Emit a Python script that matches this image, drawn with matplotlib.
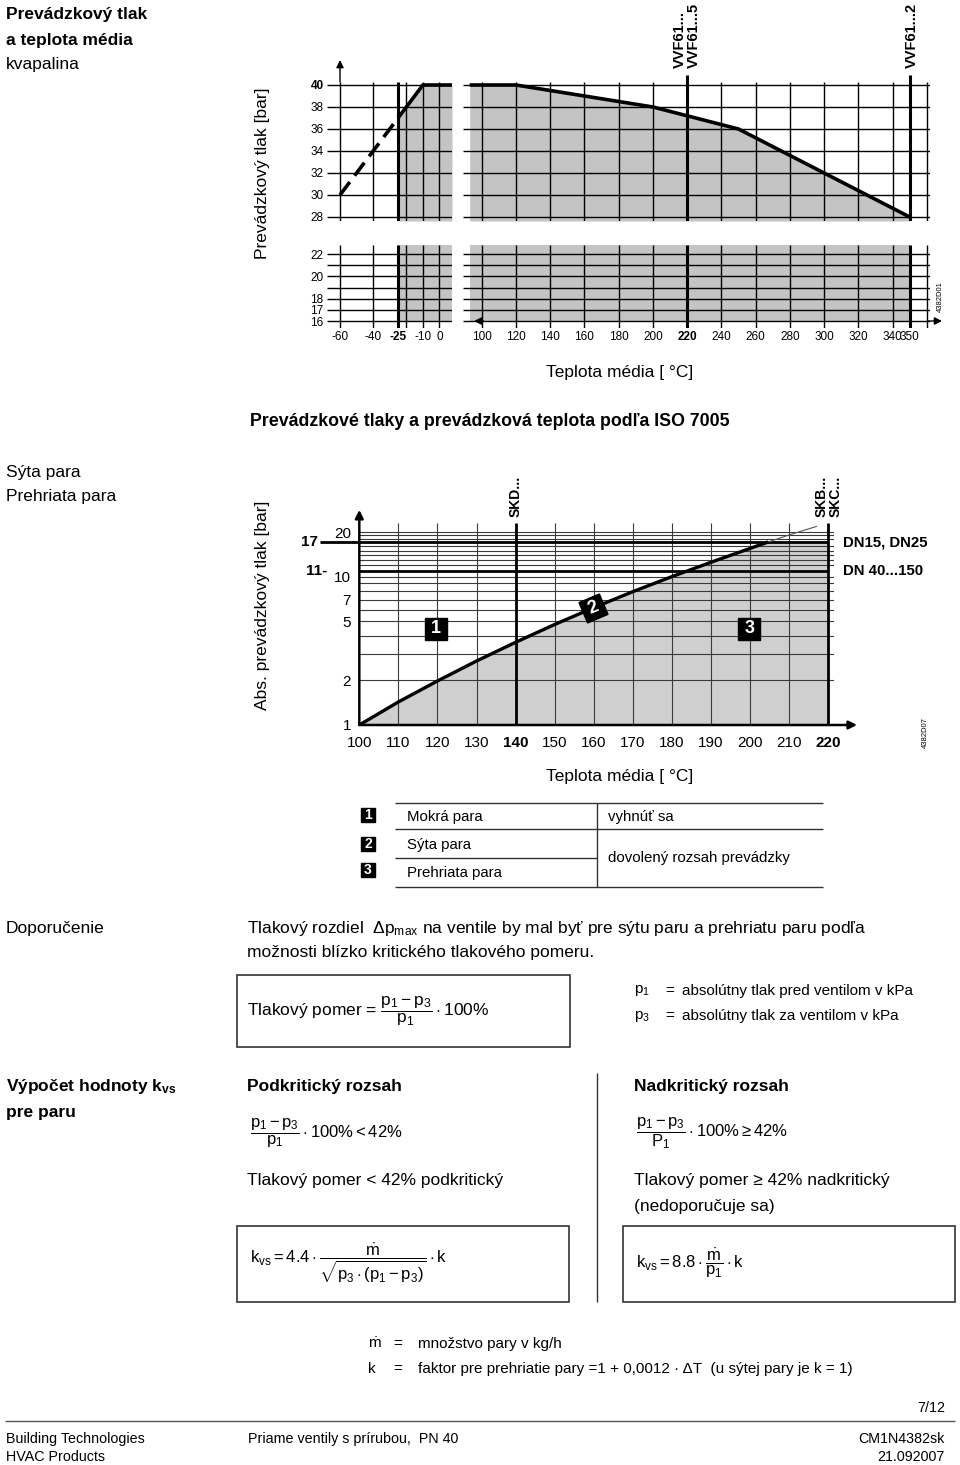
import numpy as np
import matplotlib
matplotlib.use("Agg")
import matplotlib.pyplot as plt
from matplotlib.patches import Rectangle
from matplotlib.ticker import NullLocator

plt.rcParams['font.family'] = ['Liberation Sans', 'DejaVu Sans']
plt.rcParams['mathtext.fontset'] = 'custom'
plt.rcParams['mathtext.rm'] = 'Liberation Sans'
plt.rcParams['mathtext.it'] = 'Liberation Sans:italic'
plt.rcParams['mathtext.bf'] = 'Liberation Sans:bold'

# --- chart 1: liquid, operating pressure [bar] vs. medium temperature [C]
liq_temp = [-60, -25, -10, 120, 200, 250, 350]
liq_pres = [30, 37, 40, 40, 38, 36, 28]
liq_min_temp = -25
liq_xticks_l = [-60, -40, -25, -10, 0]
liq_xticks_r = [100, 120, 140, 160, 180, 200, 220, 240, 260, 280, 300, 320, 340, 350]
liq_yticks_top = [28, 30, 32, 34, 36, 38, 40]
liq_yticks_bot = [16, 17, 18, 20, 22]
liq_hgrid_top = [28, 30, 32, 34, 36, 38, 40]
liq_hgrid_bot = [16, 17, 18, 19, 20, 21, 22]
liq_vgrid_l = [-60, -40, -20, -10, 0]
liq_vgrid_r = [100, 120, 140, 160, 180, 200, 240, 260, 280, 300, 320, 340, 360]
valve_temp = [220, 350]
valve_names = [["VVF61...", "VVF61...5"], ["VVF61...2"]]

# --- chart 2: steam, abs. pressure [bar] vs. temperature [C]
sat_temp = [100, 110, 120, 130, 140, 150, 160, 170, 180, 190, 200, 204.3]
sat_pres = [1.0, 1.43, 1.98, 2.70, 3.61, 4.76, 6.18, 7.92, 10.0, 12.5, 15.5, 17.0]
ext_temp = [204.3, 210, 217]
ext_pres = [17.0, 19.1, 21.8]
st_xticks = [100, 110, 120, 130, 140, 150, 160, 170, 180, 190, 200, 210, 220]
st_yticks = [1, 2, 5, 7, 10, 20]
st_hgrid = [2, 3, 4, 5, 6, 7, 8, 9, 10, 12, 13, 14, 15, 16, 18, 19, 20]
st_vgrid = [110, 120, 130, 150, 160, 170, 180, 190, 200, 210]
st_valve_temp = [140, 220]
st_dn_pres = [17, 11]
st_dn_names = ["DN15, DN25", "DN 40...150"]
region_nums = ["1", "2", "3"]
region_x = [119.6, 159.8, 199.8]
region_y = [4.44, 6.15, 4.44]
region_ang = [0, 23, 0]

W, H = 960, 1465
fig = plt.figure(figsize=(W / 100, H / 100), dpi=100)
page = fig.add_axes([0, 0, 1, 1])
page.set_xlim(0, W)
page.set_ylim(H, 0)
page.axis('off')


def px_axes(x0, y0, x1, y1):
    ax = fig.add_axes([x0 / W, 1 - y1 / H, (x1 - x0) / W, (y1 - y0) / H])
    for sp in ax.spines.values():
        sp.set_visible(False)
    ax.patch.set_visible(False)
    ax.set_xticks([])
    ax.set_yticks([])
    ax.tick_params(length=0)
    return ax


def txt(x, y, s, size=12.5, **kw):
    kw.setdefault('va', 'center')
    page.text(x, y, s, fontsize=size, **kw)


def hline(x0, x1, y, lw=1.0, c='#333333'):
    page.plot([x0, x1], [y, y], color=c, lw=lw, solid_capstyle='butt')


def vline(x, y0, y1, lw=1.0, c='#333333'):
    page.plot([x, x], [y0, y1], color=c, lw=lw, solid_capstyle='butt')


def num_box(ax, x, y, s, ms, fs, ang=0):
    ax.plot(x, y, marker=(4, 0, 45 + ang), ms=ms, color='k', ls='none', zorder=6, clip_on=False)
    ax.text(x, y, s, rotation=ang, rotation_mode='anchor', ha='center', va='center',
            color='w', weight='bold', fontsize=fs, zorder=7)


# ---------------- headings
txt(6, 15, 'Prevádzkový tlak', weight='bold')
txt(6, 40, 'a teplota média', weight='bold')
txt(6, 64, 'kvapalina')

# ---------------- chart 1 (broken axes)
GRAY1 = '#c4c4c4'
XL_L = (-67.84, 7.54)
XL_R = (88.79, 361.86)
YL_T = (27.636, 40.909)
YL_B = (15.373, 22.83)
V_TOP = 40.27

ul = px_axes(327, 75, 452, 221)
ur = px_axes(462.5, 75, 930, 221)
ll = px_axes(327, 245, 452, 328)
lr = px_axes(462.5, 245, 930, 328)

for ax, xl, yl, hg in ((ul, XL_L, YL_T, liq_hgrid_top), (ur, XL_R, YL_T, liq_hgrid_top),
                       (ll, XL_L, YL_B, liq_hgrid_bot), (lr, XL_R, YL_B, liq_hgrid_bot)):
    ax.set_xlim(*xl)
    ax.set_ylim(*yl)
    ax.hlines(hg, xl[0], xl[1], color='k', lw=1.0, zorder=3)

ul.vlines(liq_vgrid_l, YL_T[0], V_TOP, color='k', lw=1.0, zorder=3)
ul.vlines(liq_min_temp, YL_T[0], V_TOP, color='k', lw=2.2, zorder=3)
ll.vlines(liq_vgrid_l, *YL_B, color='k', lw=1.0, zorder=3)
ll.vlines(liq_min_temp, *YL_B, color='k', lw=2.2, zorder=3)
ur.vlines(liq_vgrid_r, YL_T[0], V_TOP, color='k', lw=1.0, zorder=3)
ur.vlines(valve_temp, YL_T[0], YL_T[1], color='k', lw=2.2, zorder=3)
lr.vlines(liq_vgrid_r, *YL_B, color='k', lw=1.0, zorder=3)
lr.vlines(valve_temp, *YL_B, color='k', lw=2.2, zorder=3)

# left part of the curve
xs = [liq_min_temp] + [t for t in liq_temp if liq_min_temp < t < XL_L[1]] + [XL_L[1]]
ps = np.interp(xs, liq_temp, liq_pres)
ul.fill_between(xs, ps, YL_T[0], color=GRAY1, lw=0, zorder=1)
ul.plot(liq_temp[:2], liq_pres[:2], color='k', lw=2.6, dashes=(4.5, 2.2), zorder=4)
ul.plot(xs, ps, color='k', lw=2.6, zorder=4, solid_capstyle='butt')
ll.fill_between([liq_min_temp, XL_L[1]], 16, YL_B[1], color=GRAY1, lw=0, zorder=1)

# right part of the curve
r_start = 93
xs = [r_start] + [t for t in liq_temp if t > r_start]
ps = np.interp(xs, liq_temp, liq_pres)
ur.fill_between(xs, ps, YL_T[0], color=GRAY1, lw=0, zorder=1)
ur.plot(xs, ps, color='k', lw=2.6, zorder=4, solid_capstyle='butt')
lr.fill_between([r_start, valve_temp[-1]], 16, YL_B[1], color=GRAY1, lw=0, zorder=1)

# arrows
ul.annotate('', xy=(-60, 42.27), xytext=(-60, V_TOP), annotation_clip=False,
            arrowprops=dict(arrowstyle='-|>', color='k', lw=1.0, mutation_scale=11, shrinkA=0, shrinkB=0))
lr.annotate('', xy=(95.5, 16), xytext=(101, 16), annotation_clip=False,
            arrowprops=dict(arrowstyle='-|>', color='k', lw=1.0, mutation_scale=11, shrinkA=0, shrinkB=0))
lr.annotate('', xy=(368.9, 16), xytext=(361, 16), annotation_clip=False,
            arrowprops=dict(arrowstyle='-|>', color='k', lw=1.0, mutation_scale=11, shrinkA=0, shrinkB=0))

# ticks
ll.set_xticks(liq_xticks_l, labels=[str(t) for t in liq_xticks_l])
lr.set_xticks(liq_xticks_r, labels=[str(t) for t in liq_xticks_r])
ul.set_yticks(liq_yticks_top, labels=[str(t) for t in liq_yticks_top])
ll.set_yticks(liq_yticks_bot, labels=[str(t) for t in liq_yticks_bot])
for ax in (ul, ur, ll, lr):
    ax.tick_params(length=0, labelsize=8.5, pad=2.5)
    for lbl in ax.get_xticklabels() + ax.get_yticklabels():
        if lbl.get_text() in ('-25', '220', '40'):
            lbl.set_fontweight('bold')

# valve labels
ur.text(valve_temp[0], 41.55, valve_names[0][0], rotation=90, ha='right', va='bottom',
        weight='bold', fontsize=10.5)
ur.text(valve_temp[0], 41.55, valve_names[0][1], rotation=90, ha='left', va='bottom',
        weight='bold', fontsize=10.5)
ur.text(valve_temp[1] + 1.5, 41.55, valve_names[1][0], rotation=90, ha='center', va='bottom',
        weight='bold', fontsize=10.5)

txt(262, 173, 'Prevádzkový tlak [bar]', rotation=90, ha='center')
txt(620, 373, 'Teplota média [ °C]', ha='center')
txt(940, 297, '4382D01', size=5.5, rotation=90, ha='center')
txt(490, 422, 'Prevádzkové tlaky a prevádzková teplota podľa ISO 7005', ha='center', weight='bold', size=12.8)

# ---------------- chart 2 (steam)
txt(6, 472, 'Sýta para')
txt(6, 497, 'Prehriata para')

GRAY2 = '#cfcfcf'
ax2 = px_axes(359.3, 523, 834, 725)
ax2.set_yscale('log')
ax2.yaxis.set_minor_locator(NullLocator())
ax2.set_xlim(100, 221.5)
ax2.set_ylim(1, 23)

ax2.fill_between(sat_temp + [st_valve_temp[-1]], sat_pres + [st_dn_pres[0]], 1,
                 color=GRAY2, lw=0, zorder=1)
ax2.hlines(st_hgrid, 100, 221.5, color='#3a3a3a', lw=0.8, zorder=2)
ax2.vlines(st_vgrid, 1, 23, color='#3a3a3a', lw=0.8, zorder=2)
ax2.vlines(st_valve_temp, 1, 23, color='k', lw=2.0, zorder=3)
ax2.hlines(st_dn_pres[0], 89.9, 220, color='k', lw=2.0, zorder=3, clip_on=False)
ax2.hlines(st_dn_pres[1], 100, 220, color='k', lw=2.0, zorder=3)
ax2.plot(ext_temp, ext_pres, color='#555555', lw=0.8, zorder=4)
ax2.plot(sat_temp, sat_pres, color='k', lw=2.4, zorder=4)

ax2.annotate('', xy=(227.4, 1), xytext=(100, 1), annotation_clip=False,
             arrowprops=dict(arrowstyle='-|>', color='k', lw=1.8, mutation_scale=12, shrinkA=0, shrinkB=0))
ax2.annotate('', xy=(100, 28.2), xytext=(100, 1), annotation_clip=False,
             arrowprops=dict(arrowstyle='-|>', color='k', lw=1.8, mutation_scale=12, shrinkA=0, shrinkB=0))

ax2.set_xticks(st_xticks, labels=[str(t) for t in st_xticks])
ax2.set_yticks(st_yticks, labels=[str(t) for t in st_yticks])
ax2.tick_params(axis='x', length=0, labelsize=11, pad=8)
ax2.tick_params(axis='y', length=0, labelsize=11, pad=6)
for lbl in ax2.get_xticklabels():
    if lbl.get_text() in ('140', '220'):
        lbl.set_fontweight('bold')

ax2.text(89.5, st_dn_pres[0], '17', ha='right', va='center', weight='bold', fontsize=11)
ax2.text(91.7, st_dn_pres[1], '11-', ha='right', va='center', weight='bold', fontsize=11)
for p, name in zip(st_dn_pres, st_dn_names):
    ax2.text(223.8, p, name, ha='left', va='center', weight='bold', fontsize=10.8)
ax2.text(st_valve_temp[0], 25.3, 'SKD...', rotation=90, ha='center', va='bottom', weight='bold', fontsize=10)
ax2.text(st_valve_temp[1], 25.3, 'SKB...', rotation=90, ha='right', va='bottom', weight='bold', fontsize=10)
ax2.text(st_valve_temp[1], 25.3, 'SKC...', rotation=90, ha='left', va='bottom', weight='bold', fontsize=10)

for s, bx, by, ang in zip(region_nums, region_x, region_y, region_ang):
    num_box(ax2, bx, by, s, 22.5, 13, ang)

txt(262, 605, 'Abs. prevádzkový tlak [bar]', rotation=90, ha='center')
txt(620, 777, 'Teplota média [ °C]', ha='center')
txt(925, 733, '4382D07', size=5.5, rotation=90, ha='center')

# ---------------- legend table
hline(395, 823, 803.3)
hline(395, 823, 829.3)
hline(395, 596.7, 858.3)
hline(395, 823, 886.7)
vline(596.7, 803.3, 886.7)
for s, y in zip(region_nums, [815, 843.5, 870]):
    num_box(page, 368, y, s, 14.5, 10)
txt(406.7, 816.7, 'Mokrá para', size=10.8)
txt(406.7, 845, 'Sýta para', size=10.8)
txt(406.7, 873, 'Prehriata para', size=10.8)
txt(607.7, 816.7, 'vyhnúť sa', size=10.8)
txt(607.7, 858.3, 'dovolený rozsah prevádzky', size=10.8)

# ---------------- recommendation
txt(6, 928, 'Doporučenie')
txt(247, 928, r'Tlakový rozdiel  $\Delta\mathrm{p}_{\mathrm{max}}$ na ventile by mal byť pre sýtu paru a prehriatu paru podľa')
txt(247, 953, 'možnosti blízko kritického tlakového pomeru.')

page.add_patch(Rectangle((237, 975), 333, 72, fill=False, ec='#333333', lw=1.2))
txt(247, 1011, r'Tlakový pomer = $\dfrac{\mathrm{p_1 - p_3}}{\mathrm{p_1}}\cdot\mathrm{100\%}$')
txt(634, 991, r'$\mathrm{p_1}$', size=11)
txt(665, 991, '=', size=11)
txt(682, 991, 'absolútny tlak pred ventilom v kPa', size=11)
txt(634, 1016, r'$\mathrm{p_3}$', size=11)
txt(665, 1016, '=', size=11)
txt(682, 1016, 'absolútny tlak za ventilom v kPa', size=11)

# ---------------- kvs calculation
txt(6, 1087, r'Výpočet hodnoty k$_{\mathbf{vs}}$', weight='bold')
txt(6, 1112, 'pre paru', weight='bold')
vline(597, 1073, 1302)

txt(247, 1087, 'Podkritický rozsah', weight='bold')
txt(250, 1133, r'$\dfrac{\mathrm{p_1 - p_3}}{\mathrm{p_1}}\cdot\mathrm{100\%} < \mathrm{42\%}$', size=12)
txt(247, 1181, 'Tlakový pomer < 42% podkritický')
page.add_patch(Rectangle((237, 1226), 332, 76, fill=False, ec='#333333', lw=1.2))
txt(250, 1263, r'$\mathrm{k_{vs}} = \mathrm{4.4}\cdot\dfrac{\dot{\mathrm{m}}}{\sqrt{\mathrm{p_3}\cdot(\mathrm{p_1} - \mathrm{p_3})}}\cdot\mathrm{k}$', size=12)

txt(634, 1087, 'Nadkritický rozsah', weight='bold')
txt(636, 1133, r'$\dfrac{\mathrm{p_1 - p_3}}{\mathrm{P_1}}\cdot\mathrm{100\%} \geq \mathrm{42\%}$', size=12)
txt(634, 1181, 'Tlakový pomer ≥ 42% nadkritický')
txt(634, 1206, '(nedoporučuje sa)')
page.add_patch(Rectangle((623, 1226), 332, 76, fill=False, ec='#333333', lw=1.2))
txt(636, 1263, r'$\mathrm{k_{vs}} = \mathrm{8.8}\cdot\dfrac{\dot{\mathrm{m}}}{\mathrm{p_1}}\cdot\mathrm{k}$', size=12)

txt(368, 1344, r'$\dot{\mathrm{m}}$', size=11)
txt(393, 1344, '=', size=11)
txt(418, 1344, 'množstvo pary v kg/h', size=11)
txt(368, 1369, 'k', size=11)
txt(393, 1369, '=', size=11)
txt(418, 1369, 'faktor pre prehriatie pary =1 + 0,0012 · ΔT  (u sýtej pary je k = 1)', size=11)

# ---------------- footer
txt(945, 1408, '7/12', size=10.3, ha='right')
hline(5, 955, 1421, lw=1.0, c='#555555')
txt(6, 1439, 'Building Technologies', size=10.3)
txt(6, 1457, 'HVAC Products', size=10.3)
txt(248, 1439, 'Priame ventily s prírubou,  PN 40', size=10.3)
txt(945, 1439, 'CM1N4382sk', size=10.3, ha='right')
txt(945, 1457, '21.092007', size=10.3, ha='right')

fig.savefig('out.png', dpi=100)
